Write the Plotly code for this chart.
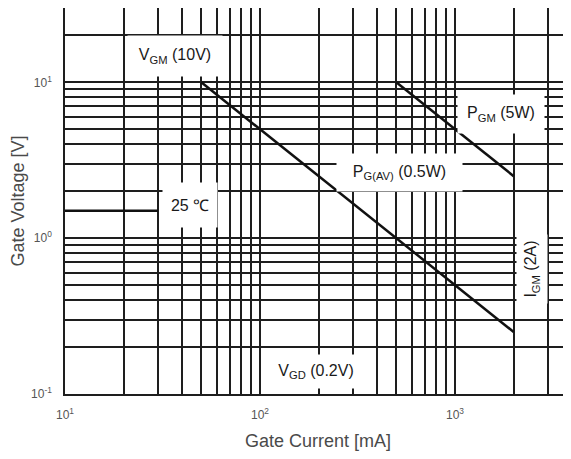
import plotly.graph_objects as go
import math

# ---- data ----
pgav_current = [50, 2000]      # mA, P_G(AV) = 0.5 W
pgav_voltage = [10, 0.25]      # V
pgm_current = [500, 2000]      # mA, P_GM = 5 W
pgm_voltage = [10, 2.5]        # V
trig_current = [10, 30]        # mA, 25 °C trigger region
trig_voltage = [1.5, 1.5]      # V

x_grid = [10, 20, 30, 40, 50, 60, 70, 80, 90,
          100, 200, 300, 400, 500, 600, 700, 800, 900,
          1000, 2000, 3000]
y_grid = [0.1, 0.2, 0.3, 0.4, 0.5, 0.6, 0.7, 0.8, 0.9,
          1, 2, 3, 4, 5, 6, 7, 8, 9, 10, 20, 30]
x_labels = {10: "10<sup>1</sup>", 100: "10<sup>2</sup>", 1000: "10<sup>3</sup>"}
y_labels = {0.1: "10<sup>-1</sup>", 1: "10<sup>0</sup>", 10: "10<sup>1</sup>"}

FONT = "Liberation Sans, Arial, sans-serif"
GRID = "#1e1e1e"
LINE = "#111111"

fig = go.Figure()
for xs, ys in [(pgav_current, pgav_voltage), (pgm_current, pgm_voltage), (trig_current, trig_voltage)]:
    fig.add_trace(go.Scatter(x=xs, y=ys, mode="lines",
                             line=dict(color=LINE, width=2.5), showlegend=False,
                             hoverinfo="skip"))

ann_font = dict(family=FONT, size=16, color="#1a1a1a")
labels = [
    # text, x, y, width, height, angle
    ("V<sub>GM</sub> (10V)", 36.6, 14.8, 94, 40, 0),
    ("25 \u2103", 43.8, 1.63, 54, 44, 0),
    ("P<sub>G(AV)</sub> (0.5W)", 522, 2.62, 125, 37, 0),
    ("P<sub>GM</sub> (5W)", 1720, 6.27, 86, 38, 0),
    ("I<sub>GM</sub> (2A)", 2483, 0.634, 68, 30, -90),
    ("V<sub>GD</sub> (0.2V)", 193.6, 0.140, 96, 33, 0),
]
for text, x, y, w, h, ang in labels:
    fig.add_annotation(x=math.log10(x), y=math.log10(y), xref="x", yref="y",
                       text=text, showarrow=False, font=ann_font,
                       bgcolor="white", width=w, height=h, borderpad=0,
                       textangle=ang, align="center", valign="middle")

fig.update_xaxes(type="log", range=[1, 3.595],
                 tickvals=x_grid, ticktext=[x_labels.get(v, "") for v in x_grid],
                 showgrid=True, gridcolor=GRID, gridwidth=1.5,
                 showline=True, linecolor=GRID, linewidth=1.5, mirror=True,
                 ticks="outside", ticklen=9, tickcolor="rgba(0,0,0,0)",
                 tickfont=dict(family=FONT, size=12, color="#555555"),
                 zeroline=False,
                 title=dict(text="Gate Current [mA]", standoff=13,
                            font=dict(family=FONT, size=18, color="#4a4a4a")))
fig.update_yaxes(type="log", range=[-1, math.log10(30)],
                 tickvals=y_grid, ticktext=[y_labels.get(v, "") for v in y_grid],
                 showgrid=True, gridcolor=GRID, gridwidth=1.5,
                 showline=True, linecolor=GRID, linewidth=1.5, mirror=False,
                 ticks="outside", ticklen=9, tickcolor="rgba(0,0,0,0)",
                 tickfont=dict(family=FONT, size=12, color="#555555"),
                 zeroline=False,
                 title=dict(text="Gate Voltage [V]", standoff=14,
                            font=dict(family=FONT, size=18, color="#4a4a4a")))

# page body adds an 8px offset, so the figure is sized to fit the window
fig.update_layout(width=563, height=451,
                  margin=dict(l=57, r=0, t=0, b=65, autoexpand=False),
                  paper_bgcolor="white", plot_bgcolor="white",
                  showlegend=False)

fig.write_html("out.html")
